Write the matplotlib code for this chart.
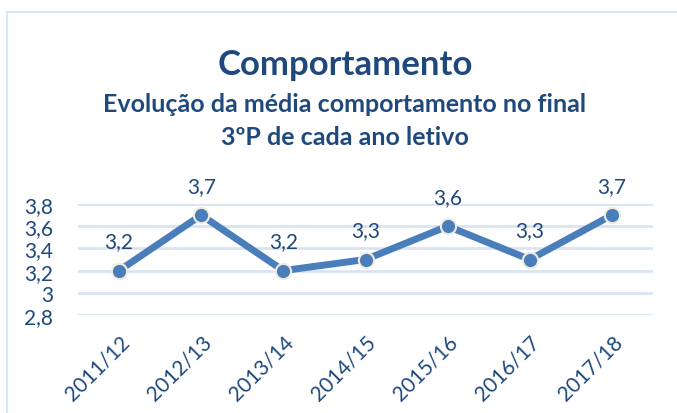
import matplotlib.pyplot as plt
from matplotlib.patches import Rectangle
from matplotlib.ticker import FixedLocator

# chart data
years = ['2011/12', '2012/13', '2013/14', '2014/15', '2015/16', '2016/17', '2017/18']
media = [3.2, 3.7, 3.2, 3.3, 3.6, 3.3, 3.7]
y_ticks = [2.8, 3.0, 3.2, 3.4, 3.6, 3.8]

W, H = 677, 414
TXT = '#1F497D'
LINE = '#4A7EBB'
GRID = '#D9E4F2'

plt.rcParams['font.family'] = ['Lato', 'DejaVu Sans']

fig = plt.figure(figsize=(W / 100, H / 100), dpi=100)

# light frame of the chart box (goes past right and bottom edge)
fig.patches.append(Rectangle((7 / W, -0.1), 1.2, 1 - 13 / H + 0.1, transform=fig.transFigure,
                             fill=False, edgecolor='#DCE6F2', linewidth=1.5))

fig.text(345 / W, 1 - 75 / H, 'Comportamento', ha='center', va='baseline',
         fontsize=25, fontweight='bold', color=TXT)
fig.text(345 / W, 1 - 112 / H, 'Evolução da média comportamento no final', ha='center', va='baseline',
         fontsize=18, fontweight='bold', color=TXT)
fig.text(345 / W, 1 - 145 / H, '3ºP de cada ano letivo', ha='center', va='baseline',
         fontsize=18, fontweight='bold', color=TXT)

ax = fig.add_axes([78 / W, (H - 316) / H, 575 / W, 111 / H])
x = list(range(len(years)))
ax.plot(x, media, color=LINE, linewidth=5, marker='o', markersize=11,
        markerfacecolor=LINE, markeredgecolor='#EEECE1', markeredgewidth=1.5,
        solid_capstyle='round', zorder=3, clip_on=False)

for xi, v in zip(x, media):
    ax.annotate(f'{v:.1f}'.replace('.', ','), (xi, v), xytext=(0, 21), textcoords='offset points',
                ha='center', va='center', fontsize=15, color=TXT)

ax.set_xlim(-0.5, len(years) - 0.5)
ax.set_ylim(2.8, 3.8)
ax.yaxis.set_major_locator(FixedLocator(y_ticks))
ax.set_yticklabels([f'{t:g}'.replace('.', ',') for t in y_ticks])
ax.set_xticks(x)
ax.set_xticklabels(years, rotation=45, ha='right', rotation_mode='anchor')
ax.tick_params(axis='both', length=0, labelsize=15, labelcolor=TXT)
ax.tick_params(axis='y', pad=18)
ax.tick_params(axis='x', pad=12)
ax.grid(axis='y', color=GRID, linewidth=2)
ax.set_axisbelow(True)
for s in ax.spines.values():
    s.set_visible(False)

fig.savefig('out.png', dpi=100)
